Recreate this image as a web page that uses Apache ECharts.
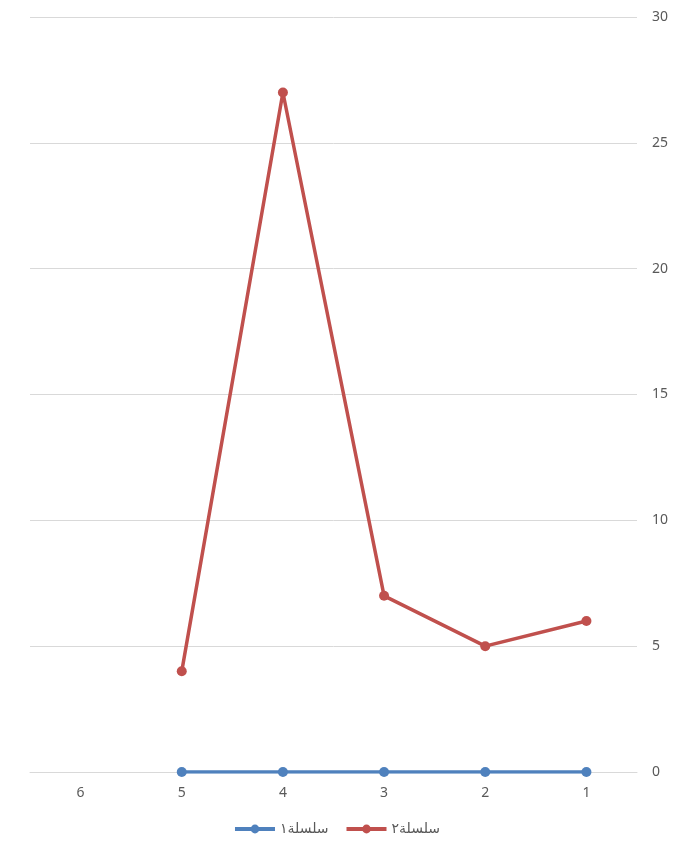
<!DOCTYPE html>
<html>
<head>
<meta charset="utf-8">
<script src="https://cdn.jsdelivr.net/npm/echarts@6/dist/echarts.min.js"></script>
<style>html,body{margin:0;padding:0;background:#fff}#c{width:673px;height:846px}</style>
</head>
<body>
<div id="c"></div>
<script>
const categories = ['1','2','3','4','5','6'];
const series1Values = [0,0,0,0,0,null];
const series2Values = [6,5,7,27,4,null];
const yTicks = {min:0, max:30, interval:5};
const seriesNames = ['سلسلة١','سلسلة٢'];

const chart = echarts.init(document.getElementById('c'));
const font = '"Noto Sans", "DejaVu Sans", sans-serif';
chart.setOption({
  animation:false,
  textStyle:{fontFamily:font},
  grid:{left:30,right:36,top:17,bottom:74,containLabel:false},
  legend:{
    bottom:5,left:'center',itemWidth:40,itemHeight:11,itemGap:16,
    textStyle:{color:'#595959',fontSize:14,fontFamily:font},
    itemStyle:{},
    lineStyle:{width:4},
    data:seriesNames
  },
  xAxis:{
    type:'category',data:categories,inverse:true,boundaryGap:true,
    axisLine:{lineStyle:{color:'#d9d9d9'}},
    axisTick:{show:false},
    axisLabel:{color:'#595959',fontSize:14,margin:14}
  },
  yAxis:{
    type:'value',position:'right',min:yTicks.min,max:yTicks.max,interval:yTicks.interval,
    axisLine:{show:false},axisTick:{show:false},
    splitLine:{lineStyle:{color:'#d9d9d9'}},
    axisLabel:{color:'#595959',fontSize:14,margin:15}
  },
  series:[
    {name:seriesNames[0],type:'line',data:series1Values,symbol:'circle',symbolSize:10,
     lineStyle:{width:3.5,color:'#4f81bd'},itemStyle:{color:'#4f81bd'}},
    {name:seriesNames[1],type:'line',data:series2Values,symbol:'circle',symbolSize:10,
     lineStyle:{width:3.5,color:'#c0504d'},itemStyle:{color:'#c0504d'}}
  ]
});
</script>
</body>
</html>
